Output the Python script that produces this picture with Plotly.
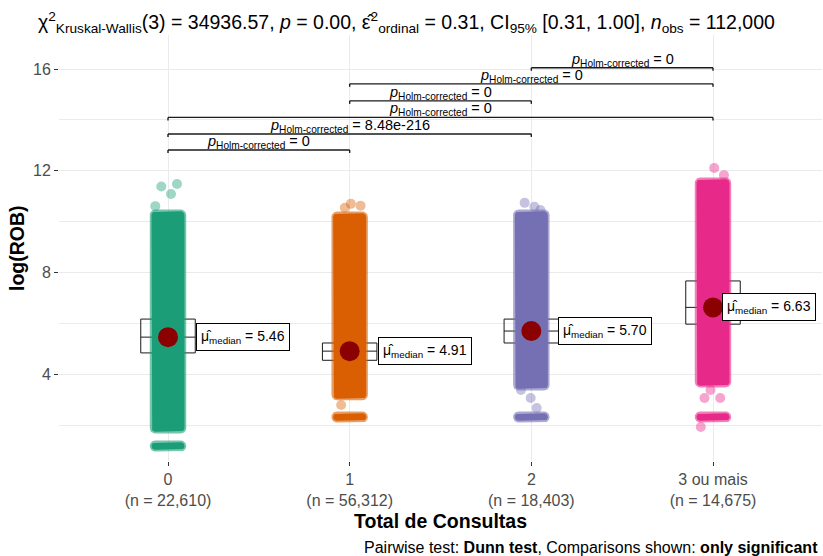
import math
import plotly.graph_objects as go

# ---- data -------------------------------------------------------------
categories = ["0", "1", "2", "3 ou mais"]
n_obs = [22610, 56312, 18403, 14675]
colors = ["#1B9E77", "#D95F02", "#7570B3", "#E7298A"]

# range covered by the dense body of each jittered cloud (log ROB)
cloud_low = [1.89, 3.19, 3.58, 3.70]
cloud_high = [10.26, 10.18, 10.26, 11.52]
# repeated minimum value forming a flat cluster at the bottom of each group
floor_value = [1.18, 2.32, 2.32, 2.32]
# sparse observations outside the dense body
tails = [
    [10.61, 11.09, 11.38, 11.48],
    [10.55, 10.63, 10.70, 2.79],
    [10.59, 10.74, 10.46, 3.07, 3.38, 2.67],
    [11.83, 12.11, 3.07, 3.07, 3.38, 1.93],
]

# box-plot statistics per group
q1 = [4.84, 4.55, 5.23, 5.97]
medians = [5.46, 4.91, 5.70, 6.63]
q3 = [6.17, 5.23, 6.17, 7.67]
whisker_low = [2.93, 3.66, 3.85, 3.71]
whisker_high = [8.17, 6.21, 7.60, 10.26]

# pairwise Dunn comparisons (group a, group b, bracket height, p label)
pair_a = [0, 0, 0, 1, 1, 2]
pair_b = [1, 2, 3, 2, 3, 3]
pair_y = [12.82, 13.45, 14.10, 14.75, 15.42, 16.05]
pair_p = ["0", "8.48e-216", "0", "0", "0", "0"]

# ---- layout constants ---------------------------------------------------
W, H = 823, 556
M_L, M_R, M_T, M_B = 59, 1, 35, 95
X_RANGE = [-0.6, 3.6]
Y_RANGE = [0.59, 17.34]
PX_X = (W - M_L - M_R) / (X_RANGE[1] - X_RANGE[0])
PX_Y = (H - M_T - M_B) / (Y_RANGE[1] - Y_RANGE[0])
JITTER = 0.07
FONT = "Liberation Sans, Arial, sans-serif"


def rgba(hex_color, a):
    h = hex_color.lstrip("#")
    r, g, b = int(h[0:2], 16), int(h[2:4], 16), int(h[4:6], 16)
    return f"rgba({r},{g},{b},{a})"


def capsule(cx, lo, hi, half, radius_px, n=10):
    """Rounded rectangle around a jitter band, corner radius in pixels."""
    rx, ry = radius_px / PX_X, radius_px / PX_Y
    xs, ys = [], []
    corners = [(cx + half, hi, 0), (cx - half, hi, 90),
               (cx - half, lo, 180), (cx + half, lo, 270)]
    for x0, y0, a0 in corners:
        for k in range(n + 1):
            a = math.radians(a0 + 90 * k / n)
            xs.append(x0 + rx * math.cos(a))
            ys.append(y0 + ry * math.sin(a))
    xs.append(xs[0])
    ys.append(ys[0])
    return xs, ys


fig = go.Figure()

# jittered observation clouds
for i, col in enumerate(colors):
    for lo, hi in [(cloud_low[i], cloud_high[i]), (floor_value[i], floor_value[i])]:
        # translucent fringe, then solid core
        for rad, alpha in [(5.5, 0.6), (3.8, 1.0)]:
            xs, ys = capsule(i, lo, hi, JITTER, rad)
            fig.add_trace(go.Scatter(
                x=xs, y=ys, mode="lines", fill="toself",
                fillcolor=rgba(col, alpha), line=dict(width=0, color=rgba(col, 0)),
                hoverinfo="skip", showlegend=False))
    offs = [((k * 0.618034 + 0.31 * i) % 1 - 0.5) * 2 * JITTER for k in range(len(tails[i]))]
    fig.add_trace(go.Scatter(
        x=[i + o for o in offs], y=tails[i], mode="markers",
        marker=dict(size=10, color=rgba(col, 0.42), line=dict(width=0)),
        hoverinfo="skip", showlegend=False))

# box plots
for i in range(len(categories)):
    fig.add_trace(go.Box(
        x=[i], q1=[q1[i]], median=[medians[i]], q3=[q3[i]],
        lowerfence=[whisker_low[i]], upperfence=[whisker_high[i]],
        width=0.3, whiskerwidth=0, boxpoints=False,
        fillcolor="rgba(255,255,255,0.28)",
        line=dict(color="#1a1a1a", width=1), hoverinfo="skip", showlegend=False))

# median points
fig.add_trace(go.Scatter(
    x=list(range(len(categories))), y=medians, mode="markers",
    marker=dict(size=20, color="#8B0000", line=dict(width=0)),
    hoverinfo="skip", showlegend=False))

annotations = []
shapes = []

# median labels
label_x = [0.155, 1.155, 2.145, 3.05]
for i, m in enumerate(medians):
    annotations.append(dict(
        x=label_x[i], y=m, xref="x", yref="y", xanchor="left", yanchor="middle",
        text=f"μ\u0302<sub>median</sub> = {m:.2f}", showarrow=False,
        font=dict(family=FONT, size=14, color="#000"),
        bgcolor="white", bordercolor="#000", borderwidth=1, borderpad=4))

# significance brackets
tick = 3 / PX_Y
for a, b, y, p in zip(pair_a, pair_b, pair_y, pair_p):
    for x0, y0, x1, y1 in [(a, y, b, y), (a, y, a, y - tick), (b, y, b, y - tick)]:
        shapes.append(dict(type="line", xref="x", yref="y", x0=x0, y0=y0, x1=x1, y1=y1,
                           line=dict(color="#1a1a1a", width=1.4)))
    annotations.append(dict(
        x=(a + b) / 2, y=y, xref="x", yref="y", xanchor="center", yanchor="bottom",
        yshift=-3, showarrow=False,
        text=f"<i>p</i><sub>Holm-corrected</sub> = {p}",
        font=dict(family=FONT, size=14.5, color="#000")))

# axis titles and caption
annotations.append(dict(
    x=0.5, y=-0.141, xref="paper", yref="paper", xanchor="center", yanchor="middle",
    text="<b>Total de Consultas</b>", showarrow=False,
    font=dict(family=FONT, size=19.5, color="#000")))
annotations.append(dict(
    x=-0.055, y=0.5, xref="paper", yref="paper", xanchor="center", yanchor="middle",
    text="<b>log(ROB)</b>", showarrow=False, textangle=-90,
    font=dict(family=FONT, size=19.5, color="#000")))
annotations.append(dict(
    x=0.997, y=-0.202, xref="paper", yref="paper", xanchor="right", yanchor="middle",
    text="Pairwise test: <b>Dunn test</b>, Comparisons shown: <b>only significant</b>",
    showarrow=False, font=dict(family=FONT, size=16, color="#000")))

title_text = ("χ<sup>2</sup><sub>Kruskal-Wallis</sub>(3) = 34936.57, <i>p</i> = 0.00, "
              "ε\u0302<sup>2</sup><sub>ordinal</sub> = 0.31, CI<sub>95%</sub> [0.31, 1.00], "
              "<i>n</i><sub>obs</sub> = 112,000")

fig.update_layout(
    width=W, height=H,
    margin=dict(l=M_L, r=M_R, t=M_T, b=M_B),
    paper_bgcolor="white", plot_bgcolor="white",
    title=dict(text=title_text, x=38 / W, xanchor="left", xref="container",
               y=1 - 22 / H, yanchor="middle", yref="container",
               font=dict(family=FONT, size=19.5, color="#000")),
    xaxis=dict(range=X_RANGE, tickmode="array", tickvals=list(range(len(categories))),
               ticktext=[f"{c}<br>(n = {n:,})" for c, n in zip(categories, n_obs)],
               showgrid=True, gridcolor="#EBEBEB", gridwidth=1, zeroline=False,
               ticks="outside", ticklen=4, tickcolor="#333", showline=False,
               tickfont=dict(family=FONT, size=16, color="#4D4D4D")),
    yaxis=dict(range=Y_RANGE, tickmode="linear", tick0=0, dtick=4,
               showgrid=True, gridcolor="#EBEBEB", gridwidth=1, zeroline=False,
               minor=dict(tick0=0, dtick=2, showgrid=True, gridcolor="#EBEBEB", gridwidth=1),
               ticks="outside", ticklen=4, tickcolor="#333", showline=False,
               tickfont=dict(family=FONT, size=16, color="#4D4D4D")),
    annotations=annotations, shapes=shapes,
    showlegend=False,
)

fig.write_html("out.html")
